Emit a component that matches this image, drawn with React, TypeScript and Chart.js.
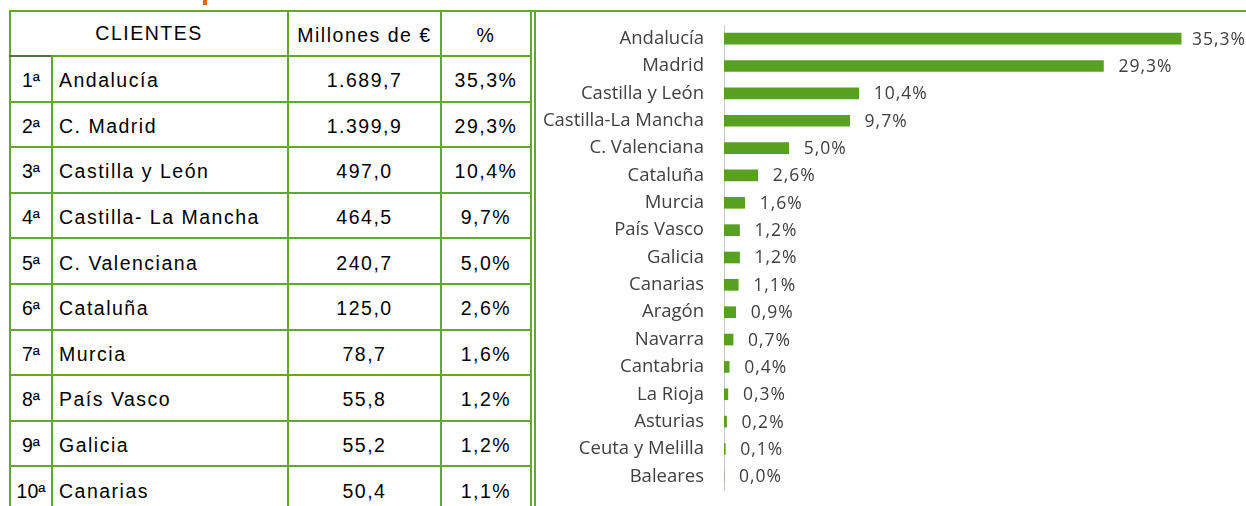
import React, { useEffect, useRef } from "react";
import { Chart, registerables } from "chart.js";

Chart.register(...registerables);

// ---- Table data ----
const tableRanks = ["1ª", "2ª", "3ª", "4ª", "5ª", "6ª", "7ª", "8ª", "9ª", "10ª"];
const tableNames = [
  "Andalucía",
  "C. Madrid",
  "Castilla y León",
  "Castilla- La Mancha",
  "C. Valenciana",
  "Cataluña",
  "Murcia",
  "País Vasco",
  "Galicia",
  "Canarias",
];
const tableMillions = ["1.689,7", "1.399,9", "497,0", "464,5", "240,7", "125,0", "78,7", "55,8", "55,2", "50,4"];
const tablePercents = ["35,3%", "29,3%", "10,4%", "9,7%", "5,0%", "2,6%", "1,6%", "1,2%", "1,2%", "1,1%"];
const tableHeaders = ["CLIENTES", "Millones de €", "%"];

// ---- Chart data ----
const chartCategories = [
  "Andalucía",
  "Madrid",
  "Castilla y León",
  "Castilla-La Mancha",
  "C. Valenciana",
  "Cataluña",
  "Murcia",
  "País Vasco",
  "Galicia",
  "Canarias",
  "Aragón",
  "Navarra",
  "Cantabria",
  "La Rioja",
  "Asturias",
  "Ceuta y Melilla",
  "Baleares",
];
const chartValues = [35.3, 29.3, 10.4, 9.7, 5.0, 2.6, 1.6, 1.2, 1.2, 1.1, 0.9, 0.7, 0.4, 0.3, 0.2, 0.1, 0.0];

const GREEN = "#62a82e";
const BAR = "#58a01f";
const TEXT = "#404040";
const LABEL_FONT = "'Open Sans', sans-serif";

const fmt = (v: number) => v.toFixed(1).replace(".", ",") + "%";

const dataLabelPlugin = {
  id: "dataLabels",
  afterDatasetsDraw(chart: any) {
    const ctx = chart.ctx;
    const meta = chart.getDatasetMeta(0);
    ctx.save();
    ctx.font = `17.5px ${LABEL_FONT}`;
    try {
      (ctx as any).letterSpacing = "1px";
    } catch (e) {}
    ctx.fillStyle = TEXT;
    ctx.textBaseline = "middle";
    ctx.textAlign = "left";
    meta.data.forEach((bar: any, i: number) => {
      const txt = fmt(chartValues[i]);
      const w = ctx.measureText(txt).width;
      let x = bar.x + 15;
      const limit = chart.width;
      if (x + w > limit) x = limit - w;
      ctx.fillText(txt, x, bar.y + 1);
    });
    try {
      (ctx as any).letterSpacing = "0px";
    } catch (e) {}
    ctx.restore();
  },
};

const ROW_TOP = 56;
const ROW_H = 45.6;
const COL_X = [9, 51, 287, 440, 530];

function Line({ x, y, w, h, color = GREEN }: any) {
  return <div style={{ position: "absolute", left: x, top: y, width: w, height: h, background: color }} />;
}

function Cell({ x1, x2, y1, y2, align, children, pad = 0 }: any) {
  return (
    <div
      style={{
        position: "absolute",
        left: x1,
        top: y1 + 2,
        width: x2 - x1,
        height: y2 - y1,
        display: "flex",
        alignItems: "center",
        justifyContent: align === "left" ? "flex-start" : "center",
        paddingLeft: pad,
        boxSizing: "border-box",
        whiteSpace: "nowrap",
        letterSpacing: "1.5px",
      }}
    >
      {children}
    </div>
  );
}

export default function App() {
  const canvasRef = useRef<HTMLCanvasElement>(null);

  useEffect(() => {
    const chart = new Chart(canvasRef.current!, {
      type: "bar",
      data: {
        labels: chartCategories,
        datasets: [
          {
            data: chartValues,
            backgroundColor: BAR,
            barThickness: 11,
          },
        ],
      },
      options: {
        indexAxis: "y",
        animation: false,
        responsive: false,
        maintainAspectRatio: false,
        layout: { padding: { top: 12, bottom: 16, right: 4, left: 0 } },
        plugins: { legend: { display: false }, tooltip: { enabled: false } },
        scales: {
          x: { display: false, min: 0, max: 40 },
          y: {
            afterFit: (scale: any) => {
              scale.width = 188;
              scale.paddingTop = 0;
              scale.paddingBottom = 0;
            },
            grid: { display: false, drawTicks: false },
            border: { display: true, color: "#c9c9c9", width: 1 },
            ticks: {
              padding: 20,
              color: TEXT,
              font: { family: LABEL_FONT, size: 18.5 },
              autoSkip: false,
            },
          },
        },
      },
      plugins: [dataLabelPlugin],
    });
    return () => chart.destroy();
  }, []);

  const rowLines = [];
  for (let i = 0; i <= 10; i++) rowLines.push(ROW_TOP + i * ROW_H);

  return (
    <div
      style={{
        position: "fixed",
        left: 0,
        top: 0,
        width: 1246,
        height: 506,
        overflow: "hidden",
        background: "#ffffff",
        fontFamily: "'Liberation Sans', Arial, sans-serif",
        fontSize: 19.5,
        color: "#000",
      }}
    >
      {/* cut-off title fragment */}
      <div style={{ position: "absolute", left: 203, top: 0, width: 4, height: 5, background: "#d4691f" }} />

      {/* table borders */}
      <Line x={COL_X[0]} y={10} w={1246 - COL_X[0]} h={2} />
      {COL_X.map((x, i) =>
        i === 1 ? (
          <Line key={i} x={x} y={ROW_TOP} w={2} h={506 - ROW_TOP} />
        ) : (
          <Line key={i} x={x} y={10} w={2} h={506} />
        )
      )}
      <Line x={534} y={10} w={2} h={506} />
      <Line x={COL_X[0]} y={ROW_TOP - 1} w={COL_X[1] - COL_X[0] + 2} h={2} color="#4f7240" />
      {rowLines.map((y, i) => (
        <Line key={"r" + i} x={i === 0 ? COL_X[1] : COL_X[0]} y={Math.round(y) - 1} w={i === 0 ? COL_X[4] - COL_X[1] + 2 : COL_X[4] - COL_X[0] + 2} h={2} />
      ))}

      {/* header */}
      <Cell x1={COL_X[0] + 2} x2={COL_X[2]} y1={12} y2={ROW_TOP - 1} align="center">
        <span style={{ marginTop: -4 }}>{tableHeaders[0]}</span>
      </Cell>
      <Cell x1={COL_X[2] + 2} x2={COL_X[3]} y1={12} y2={ROW_TOP - 1} align="center">
        <span>{tableHeaders[1]}</span>
      </Cell>
      <Cell x1={COL_X[3] + 2} x2={COL_X[4]} y1={12} y2={ROW_TOP - 1} align="center">
        <span>{tableHeaders[2]}</span>
      </Cell>

      {/* rows */}
      {tableRanks.map((r, i) => {
        const y1 = ROW_TOP + i * ROW_H + 1;
        const y2 = ROW_TOP + (i + 1) * ROW_H - 1;
        return (
          <React.Fragment key={"row" + i}>
            <Cell x1={COL_X[0] + 2} x2={COL_X[1]} y1={y1} y2={y2} align="center">
              <span style={{ letterSpacing: 0 }}>{r}</span>
            </Cell>
            <Cell x1={COL_X[1] + 2} x2={COL_X[2]} y1={y1} y2={y2} align="left" pad={6}>
              {tableNames[i]}
            </Cell>
            <Cell x1={COL_X[2] + 2} x2={COL_X[3]} y1={y1} y2={y2} align="center">
              {tableMillions[i]}
            </Cell>
            <Cell x1={COL_X[3] + 2} x2={COL_X[4]} y1={y1} y2={y2} align="center">
              {tablePercents[i]}
            </Cell>
          </React.Fragment>
        );
      })}

      {/* chart */}
      <canvas
        ref={canvasRef}
        width={710}
        height={493}
        style={{ position: "absolute", left: 536, top: 13, width: 710, height: 493, letterSpacing: 0 }}
      />
    </div>
  );
}
